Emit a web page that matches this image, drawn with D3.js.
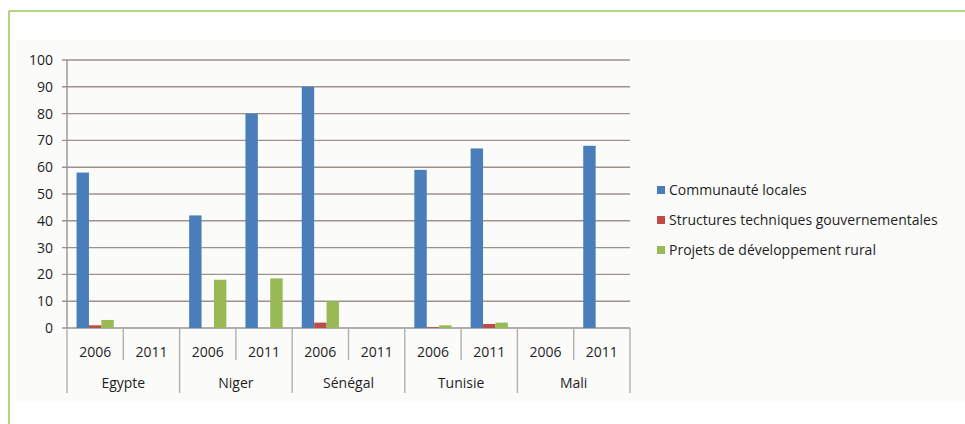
<!DOCTYPE html>
<html><head><meta charset="utf-8">
<script src="https://cdn.jsdelivr.net/npm/d3@7"></script>
<style>html,body{margin:0;padding:0;background:#fff;}svg{display:block;}</style>
</head><body>
<svg id="chart" width="965" height="424"></svg>
<script>
const countries = ["Egypte","Niger","Sénégal","Tunisie","Mali"];
const years = ["2006","2011"];
const seriesNames = ["Communauté locales","Structures techniques gouvernementales","Projets de développement rural"];
const seriesColors = ["#4a7ebb","#be4b48","#98b954"];
// values per category (country-year), in order Egypte 2006, Egypte 2011, Niger 2006, ...
const communaute = [58, null, 42, 80, 90, null, 59, 67, null, 68];
const structures = [1, null, 0, 0, 2, null, 0.3, 1.5, null, null];
const projets    = [3, null, 18, 18.5, 10, null, 1, 2, null, null];
const yTicks = [0,10,20,30,40,50,60,70,80,90,100];

(function(){
const svg = d3.select("#chart");
const font = "'Open Sans', Lato, sans-serif";
const fs = 14;
const txt = "#1e1e1e";

svg.append("rect").attr("x",16).attr("y",40).attr("width",949).attr("height",362).attr("fill","#fbfbfa");
svg.append("line").attr("x1",9).attr("x2",965).attr("y1",11).attr("y2",11).attr("stroke","#9cc65a").attr("stroke-width",1.5);
svg.append("line").attr("x1",9).attr("x2",9).attr("y1",11).attr("y2",424).attr("stroke","#9cc65a").attr("stroke-width",1.5);

const pl = 67, pr = 630, pt = 60, pb = 328;
const cats = [];
countries.forEach(c => years.forEach(yy => cats.push(c + "|" + yy)));

const x0 = d3.scaleBand().domain(cats).range([pl, pr]).paddingInner(0).paddingOuter(0);
const x1 = d3.scaleBand().domain(d3.range(3)).range([0, x0.bandwidth()]).paddingInner(0).paddingOuter(0.77);
const y = d3.scaleLinear().domain([0,100]).range([pb, pt]);

svg.append("g").selectAll("line").data(yTicks).join("line")
  .attr("x1", pl - 5).attr("x2", pr)
  .attr("y1", d => y(d)).attr("y2", d => y(d))
  .attr("stroke", "#9c928c").attr("stroke-width", 1.4);

svg.append("line").attr("x1",pl).attr("x2",pl).attr("y1",pt).attr("y2",pb).attr("stroke","#9c928c").attr("stroke-width",1.4);
svg.append("g").selectAll("text").data(yTicks).join("text")
  .attr("x", 53).attr("y", d => y(d)).attr("dy","0.35em")
  .attr("text-anchor","end").attr("font-family",font).attr("font-size",fs).attr("fill",txt)
  .text(d => d);

const seriesData = [communaute, structures, projets];
const bars = svg.append("g");
seriesData.forEach((vals, si) => {
  bars.selectAll(null).data(vals.map((v,i)=>({v, cat: cats[i]})).filter(d => d.v !== null && d.v > 0))
    .join("rect")
    .attr("x", d => x0(d.cat) + x1(si))
    .attr("width", x1.bandwidth())
    .attr("y", d => y(d.v))
    .attr("height", d => y(0) - y(d.v))
    .attr("fill", seriesColors[si]);
});

const sepColor = "#b3aeab";
const catBounds = cats.map(c => x0(c)).concat([pr]);
catBounds.forEach((bx, i) => {
  const isGroup = (i % 2 === 0);
  svg.append("line").attr("x1",bx).attr("x2",bx).attr("y1",pb).attr("y2", isGroup ? 393 : 360)
    .attr("stroke", sepColor).attr("stroke-width",1.4);
});
svg.append("g").selectAll("text").data(cats).join("text")
  .attr("x", d => x0(d) + x0.bandwidth()/2).attr("y", 352).attr("dy","0.35em")
  .attr("text-anchor","middle").attr("font-family",font).attr("font-size",fs).attr("fill",txt)
  .text(d => d.split("|")[1]);
svg.append("g").selectAll("text").data(countries).join("text")
  .attr("x", d => x0(d + "|2006") + x0.bandwidth()).attr("y", 383).attr("dy","0.35em")
  .attr("text-anchor","middle").attr("font-family",font).attr("font-size",fs).attr("fill",txt)
  .text(d => d);

const legY = [190, 220, 250];
const leg = svg.append("g");
seriesNames.forEach((name, i) => {
  leg.append("rect").attr("x",657).attr("y",legY[i]-4).attr("width",8).attr("height",8).attr("fill",seriesColors[i]);
  leg.append("text").attr("x",669).attr("y",legY[i]).attr("dy","0.35em")
    .attr("font-family",font).attr("font-size",fs).attr("fill",txt).text(name);
});
})();
</script>
</body></html>
